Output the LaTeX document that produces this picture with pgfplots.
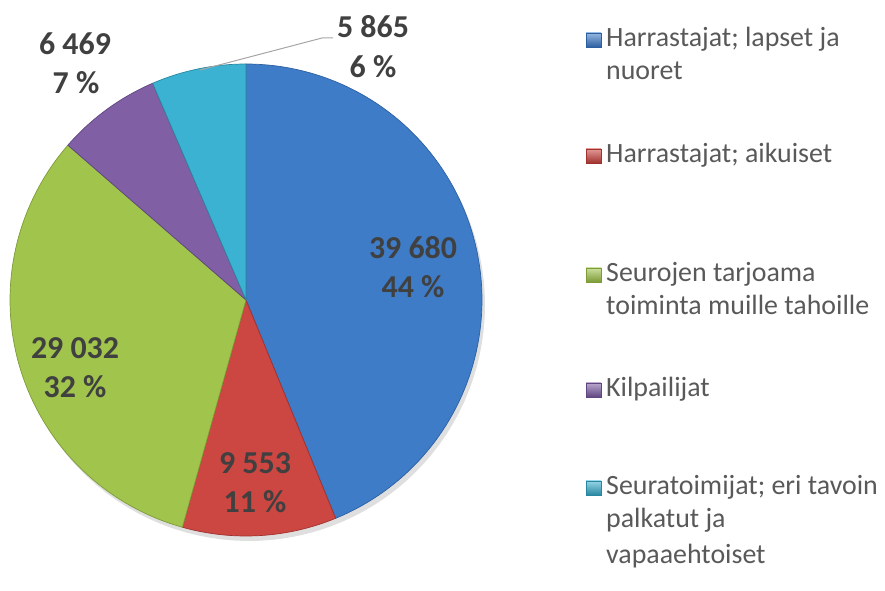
\documentclass[border=0pt]{standalone}
\usepackage{pgfplots}
\pgfplotsset{compat=1.18}
\usepackage{pgfplotstable}
\usepackage{fontspec}
\setmainfont{Carlito}

\definecolor{cblue}{RGB}{62,124,200}
\definecolor{cblueD}{RGB}{45,95,160}
\definecolor{cred}{RGB}{204,70,66}
\definecolor{credD}{RGB}{160,50,46}
\definecolor{cgreen}{RGB}{160,196,76}
\definecolor{cgreenD}{RGB}{125,155,55}
\definecolor{cpurple}{RGB}{128,95,165}
\definecolor{cpurpleD}{RGB}{95,70,128}
\definecolor{ccyan}{RGB}{60,178,210}
\definecolor{ccyanD}{RGB}{40,135,160}
\definecolor{lbl}{RGB}{64,64,64}
\definecolor{legtxt}{RGB}{89,89,89}

\pgfplotstableread{
val
39680
9553
29032
6469
5865
}\piedata

\begin{document}
\begin{tikzpicture}
\pgfplotstablegetelem{0}{val}\of\piedata \edef\vA{\pgfplotsretval}
\pgfplotstablegetelem{1}{val}\of\piedata \edef\vB{\pgfplotsretval}
\pgfplotstablegetelem{2}{val}\of\piedata \edef\vC{\pgfplotsretval}
\pgfplotstablegetelem{3}{val}\of\piedata \edef\vD{\pgfplotsretval}
\pgfplotstablegetelem{4}{val}\of\piedata \edef\vE{\pgfplotsretval}
\edef\T{\fpeval{\vA+\vB+\vC+\vD+\vE}}
\edef\aA{90}
\edef\aB{\fpeval{\aA-360*\vA/\T}}
\edef\aC{\fpeval{\aB-360*\vB/\T}}
\edef\aD{\fpeval{\aC-360*\vC/\T}}
\edef\aE{\fpeval{\aD-360*\vD/\T}}
\edef\aF{\fpeval{\aE-360*\vE/\T}}
\def\cx{246}\def\cy{291}\def\R{236}
\begin{axis}[width=885bp, height=591bp, scale only axis,
  xmin=0, xmax=885, ymin=0, ymax=591, hide axis, clip=false]
\path (rel axis cs:0,0) rectangle (rel axis cs:1,1);
% shadow
\addplot[fill=black!25, draw=none, domain=0:360, samples=120, variable=\t, opacity=0.5]
  ({\cx+3+\R*cos(\t)}, {\cy-5+\R*sin(\t)});
\addplot[fill=cblue, draw=cblueD, line width=0.7pt, domain=\aB:\aA, samples=90, variable=\t]
  ({\cx+\R*cos(\t)}, {\cy+\R*sin(\t)}) -- (axis cs:\cx,\cy) -- cycle;
\addplot[fill=cred, draw=credD, line width=0.7pt, domain=\aC:\aB, samples=40, variable=\t]
  ({\cx+\R*cos(\t)}, {\cy+\R*sin(\t)}) -- (axis cs:\cx,\cy) -- cycle;
\addplot[fill=cgreen, draw=cgreenD, line width=0.7pt, domain=\aD:\aC, samples=70, variable=\t]
  ({\cx+\R*cos(\t)}, {\cy+\R*sin(\t)}) -- (axis cs:\cx,\cy) -- cycle;
\addplot[fill=cpurple, draw=cpurpleD, line width=0.7pt, domain=\aE:\aD, samples=30, variable=\t]
  ({\cx+\R*cos(\t)}, {\cy+\R*sin(\t)}) -- (axis cs:\cx,\cy) -- cycle;
\addplot[fill=ccyan, draw=ccyanD, line width=0.7pt, domain=\aF:\aE, samples=30, variable=\t]
  ({\cx+\R*cos(\t)}, {\cy+\R*sin(\t)}) -- (axis cs:\cx,\cy) -- cycle;

% leader line
\draw[gray!70, line width=1pt] (axis cs:200,521) -- (axis cs:322,553) -- (axis cs:333,553);

% data labels
\tikzset{dl/.style={anchor=base, inner sep=0pt, text=lbl, font=\fontsize{32}{38}\selectfont\bfseries}}
\node[dl] at (axis cs:413,332) {39 680};
\node[dl] at (axis cs:413,293) {44 \%};
\node[dl] at (axis cs:255,117) {9 553};
\node[dl] at (axis cs:255,78) {11 \%};
\node[dl] at (axis cs:75,232) {29 032};
\node[dl] at (axis cs:75,193) {32 \%};
\node[dl] at (axis cs:75,536) {6 469};
\node[dl] at (axis cs:76,497) {7 \%};
\node[dl] at (axis cs:373,553) {5 865};
\node[dl] at (axis cs:373,513) {6 \%};

% legend
\tikzset{lt/.style={anchor=base west, inner sep=0pt, text=legtxt, font=\fontsize{28}{33}\selectfont}}
\shade[top color=cblue!55!white, bottom color=cblueD, draw=cblueD] (axis cs:586,544) rectangle (axis cs:601,558);
\node[lt] at (axis cs:606,544) {Harrastajat; lapset ja};
\node[lt] at (axis cs:606,511) {nuoret};
\shade[top color=cred!55!white, bottom color=credD, draw=credD] (axis cs:586,428) rectangle (axis cs:601,442);
\node[lt] at (axis cs:606,428) {Harrastajat; aikuiset};
\shade[top color=cgreen!55!white, bottom color=cgreenD, draw=cgreenD] (axis cs:586,309) rectangle (axis cs:601,323);
\node[lt] at (axis cs:606,309) {Seurojen tarjoama};
\node[lt] at (axis cs:606,276) {toiminta muille tahoille};
\shade[top color=cpurple!55!white, bottom color=cpurpleD, draw=cpurpleD] (axis cs:586,194) rectangle (axis cs:601,208);
\node[lt] at (axis cs:606,194) {Kilpailijat};
\shade[top color=ccyan!55!white, bottom color=ccyanD, draw=ccyanD] (axis cs:586,96) rectangle (axis cs:601,110);
\node[lt] at (axis cs:606,96) {Seuratoimijat; eri tavoin};
\node[lt] at (axis cs:606,63) {palkatut ja};
\node[lt] at (axis cs:606,28) {vapaaehtoiset};
\end{axis}
\end{tikzpicture}
\end{document}
